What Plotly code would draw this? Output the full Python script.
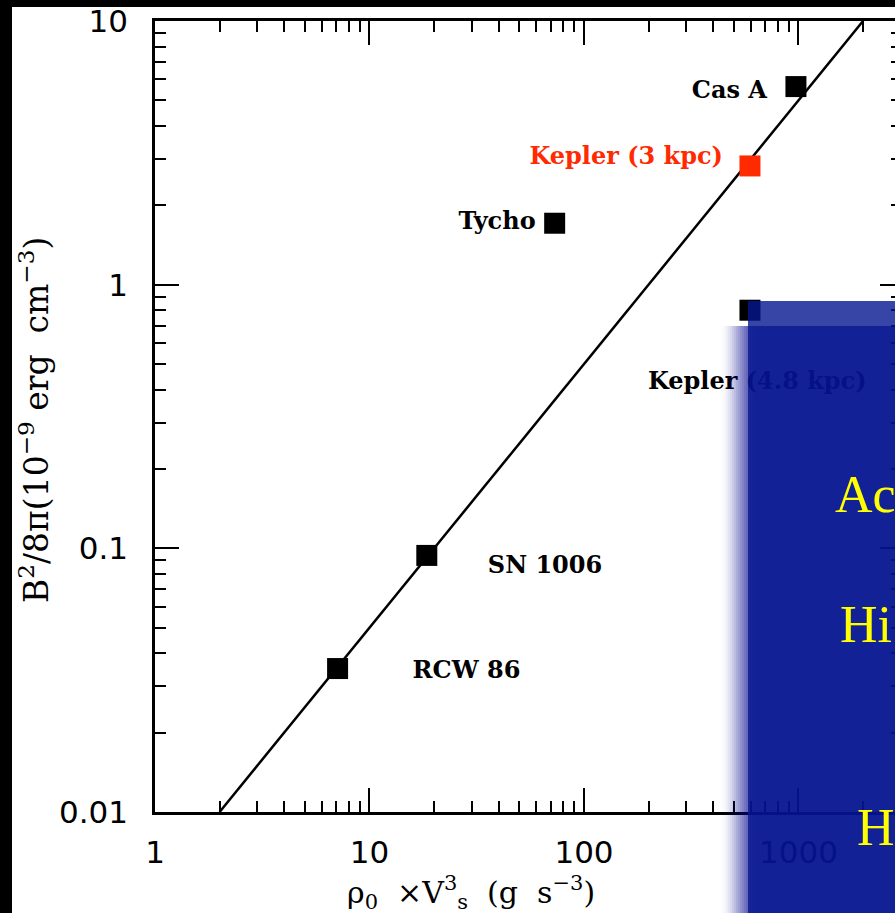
import numpy as np
import plotly.graph_objects as go

# Supernova remnants: shock energy flux vs. magnetic energy density
remnants = ["RCW 86", "SN 1006", "Tycho", "Kepler (3 kpc)", "Cas A", "Kepler (4.8 kpc)"]
rho_v3 = [7.1, 18.5, 73, 594, 973, 594]          # rho_0 * Vs^3  (g s^-3)
b_energy = [0.035, 0.094, 1.71, 2.82, 5.64, 0.80]  # B^2/8pi (1e-9 erg cm^-3)

# Reference relation B^2/8pi = rho_0 Vs^3 / 200
fit_x = [2, 2000]
fit_y = [0.01, 10]

x_tick_vals = [1, 10, 100, 1000]
x_tick_text = ["1", "10", "100", "1000"]
y_tick_vals = [0.01, 0.1, 1, 10]
y_tick_text = ["0.01", "0.1", "1", "10"]

slide_lines = ["Ac", "Hi", "H"]

# ---------------------------------------------------------------- geometry
W, H = 895, 913
L, R, T, B = 155, 895, 21, 812          # plot-area edges in pixels
X_RANGE = [0.0, 3.45]                    # log10 range
Y_RANGE = [-2.0, 1.0]


def px_x(px):
    return (px - L) / (R - L)


def px_y(py):
    return (B - py) / (B - T)


def shifted(xv, yv, dx, dy):
    """Move a data point by a pixel offset on the log-log axes."""
    lx = np.log10(xv) + dx * (X_RANGE[1] - X_RANGE[0]) / (R - L)
    ly = np.log10(yv) - dy * (Y_RANGE[1] - Y_RANGE[0]) / (B - T)
    return 10 ** lx, 10 ** ly


HIGHLIGHT = "Kepler (3 kpc)"
RED = "#ff2a00"

# label placement: pixel offset from its point and text anchor
label_place = {
    "RCW 86": (75, 3.5, "middle right"),
    "SN 1006": (61, 12, "middle right"),
    "Tycho": (-19, 0, "middle left"),
    "Kepler (3 kpc)": (-27, -8, "middle left"),
    "Cas A": (-29, 5, "middle left"),
    "Kepler (4.8 kpc)": (-102, 73, "middle right"),
}

colors = [RED if n == HIGHLIGHT else "black" for n in remnants]

lab_x, lab_y, lab_pos = [], [], []
for n, xv, yv in zip(remnants, rho_v3, b_energy):
    dx, dy, pos = label_place[n]
    lx, ly = shifted(xv, yv, dx, dy)
    lab_x.append(lx)
    lab_y.append(ly)
    lab_pos.append(pos)

fig = go.Figure()

fig.add_trace(go.Scatter(
    x=fit_x, y=fit_y, mode="lines",
    line=dict(color="black", width=2.5), hoverinfo="skip", showlegend=False))

fig.add_trace(go.Scatter(
    x=rho_v3, y=b_energy, mode="markers",
    marker=dict(symbol="square", size=21, color=colors, line=dict(width=0)),
    showlegend=False))

fig.add_trace(go.Scatter(
    x=lab_x, y=lab_y, mode="text", text=remnants, textposition=lab_pos,
    textfont=dict(family="DejaVu Serif", size=24, color=colors, weight="bold"),
    hoverinfo="skip", showlegend=False))

# right-hand tick marks (the frame continues just past the page edge)
fig.add_trace(go.Scatter(x=[None], y=[None], yaxis="y2", showlegend=False))


def minor_vals(lo, hi):
    return [m * 10.0 ** k for k in range(lo, hi) for m in range(2, 10)]


axis_common = dict(
    type="log", showgrid=False, zeroline=False,
    showline=True, linecolor="black", linewidth=2.5,
    ticks="inside", ticklen=24, tickwidth=2, tickcolor="black",
    tickfont=dict(family="DejaVu Sans", size=31, color="black"),
    tickmode="array",
)

fig.update_layout(
    width=W, height=H,
    margin=dict(l=L, r=W - R, t=T, b=H - B),
    paper_bgcolor="black", plot_bgcolor="white",
    xaxis=dict(
        **axis_common, range=X_RANGE, tickvals=x_tick_vals, ticktext=x_tick_text,
        mirror="ticks", ticklabelstandoff=11,
        minor=dict(tickmode="array", tickvals=minor_vals(0, 4), ticks="inside",
                   ticklen=11, tickwidth=2, tickcolor="black", showgrid=False),
    ),
    yaxis=dict(
        **axis_common, range=Y_RANGE, tickvals=y_tick_vals, ticktext=y_tick_text,
        ticklabelstandoff=18,
        minor=dict(tickmode="array", tickvals=minor_vals(-2, 1), ticks="inside",
                   ticklen=11, tickwidth=2, tickcolor="black", showgrid=False),
    ),
    yaxis2=dict(
        type="log", overlaying="y", side="right", anchor="x", range=Y_RANGE,
        showgrid=False, zeroline=False, showline=False, showticklabels=False,
        tickmode="array", tickvals=y_tick_vals, ticks="inside", ticklen=15,
        tickwidth=2, tickcolor="black",
        minor=dict(tickmode="array", tickvals=minor_vals(-2, 1), ticks="inside",
                   ticklen=4, tickwidth=2, tickcolor="black", showgrid=False),
    ),
)

shapes = []
# white page behind the plot
shapes.append(dict(type="rect", xref="paper", yref="paper", layer="below",
                   x0=px_x(12), x1=px_x(W + 5), y0=px_y(H + 5), y1=px_y(7),
                   fillcolor="white", line=dict(width=0)))

# soft drop shadow of the blue panel
SHADOW = (0, 0, 140)
SHADOW_MAX = 0.7
edge0, edge1, step = 720, 756, 2
for xs in range(edge0, edge1, step):
    t = (xs - edge0 + step / 2) / (edge1 - edge0)
    a = SHADOW_MAX * t * t * (3 - 2 * t)
    shapes.append(dict(type="rect", xref="paper", yref="paper", layer="above",
                       x0=px_x(xs), x1=px_x(xs + step), y0=px_y(H + 5), y1=px_y(326),
                       fillcolor="rgba(%d,%d,%d,%.3f)" % (SHADOW + (a,)),
                       line=dict(width=0)))
shapes.append(dict(type="rect", xref="paper", yref="paper", layer="above",
                   x0=px_x(edge1), x1=px_x(W + 5), y0=px_y(H + 5), y1=px_y(326),
                   fillcolor="rgba(%d,%d,%d,%.2f)" % (SHADOW + (SHADOW_MAX,)),
                   line=dict(width=0)))
# translucent blue panel
shapes.append(dict(type="rect", xref="paper", yref="paper", layer="above",
                   x0=px_x(748), x1=px_x(W + 5), y0=px_y(H + 5), y1=px_y(301),
                   fillcolor="rgba(5,22,144,0.8)", line=dict(width=0)))

annotations = [
    dict(text="B<sup>2</sup>/8π(10<sup>−9</sup> erg  cm<sup>−3</sup>)",
         xref="paper", yref="paper", x=px_x(34), y=px_y(420),
         xanchor="center", yanchor="middle", textangle=-90, showarrow=False,
         font=dict(family="DejaVu Serif", size=33, color="black")),
    dict(text="ρ<sub>0</sub>  ×V<sup>3</sup><sub>s</sub>  (g  s<sup>−3</sup>)",
         xref="paper", yref="paper", x=px_x(471), y=px_y(893),
         xanchor="center", yanchor="middle", showarrow=False,
         font=dict(family="DejaVu Serif", size=30, color="black")),
]
for txt, (lx, ly) in zip(slide_lines, [(833, 495), (838, 624), (855, 827)]):
    annotations.append(dict(
        text=txt, xref="paper", yref="paper", x=px_x(lx), y=px_y(ly),
        xanchor="left", yanchor="middle", showarrow=False,
        font=dict(family="Liberation Serif", size=52, color="#ffff00")))

fig.update_layout(shapes=shapes, annotations=annotations)

fig.write_html("out.html")
